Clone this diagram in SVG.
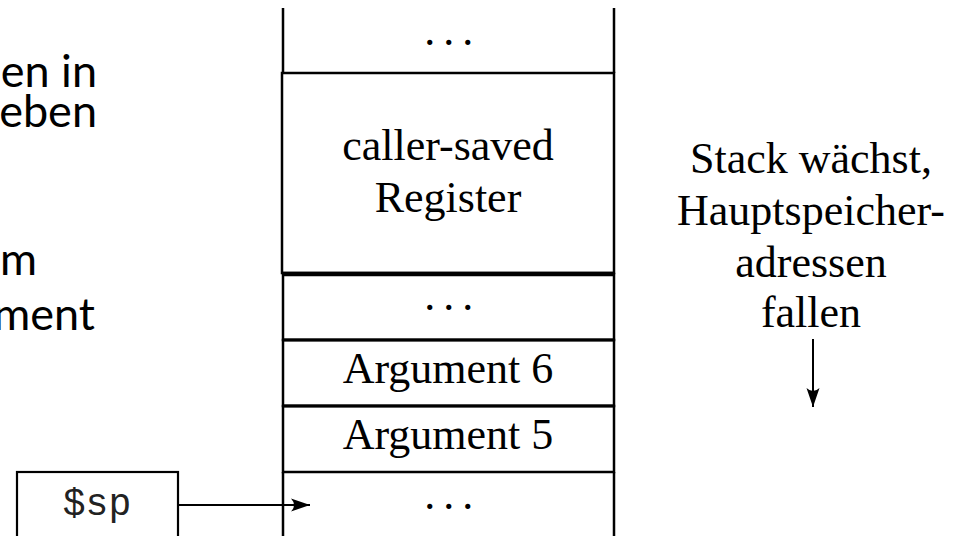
<svg xmlns="http://www.w3.org/2000/svg" width="955" height="536" viewBox="0 0 955 536">
  <style>
    .cell { fill: #fff; stroke: #000; stroke-width: 2.5; }
    .rule { stroke: #000; fill: none; }
    .lbl { font-family: "Liberation Serif", "Times New Roman", serif; font-size: 44px; fill: #000; text-anchor: middle; }
    .dots { letter-spacing: -1.5px; }
    .side { font-family: Lato, "Open Sans", sans-serif; font-size: 45px; fill: #000; text-anchor: end; }
    .mono { font-family: "Liberation Mono", "Courier New", monospace; font-size: 38px; fill: #222; text-anchor: middle; }
    .wire { stroke: #000; stroke-width: 2; fill: none; }
  </style>
  <defs>
    <marker id="head" markerUnits="userSpaceOnUse" markerWidth="20" markerHeight="14" refX="19" refY="7" orient="auto">
      <path d="M0,0.5 Q6,7 0,13.5 L19,7 Z" fill="#000"/>
    </marker>
  </defs>

  <rect width="955" height="536" fill="#fff"/>

  <!-- fragment of the slide text on the left -->
  <g id="slide-text">
    <text class="side" x="97" y="87">en in</text>
    <text class="side" x="97" y="127">eben</text>
    <text class="side" x="37" y="275">m</text>
    <text class="side" x="95" y="330">ment</text>
  </g>

  <!-- stack frame, top to bottom -->
  <g id="cell-top">
    <path class="rule" stroke-width="2.5" d="M283,8 V73 M614,8 V73"/>
    <text class="lbl dots" x="448" y="45">. . .</text>
  </g>
  <g id="cell-caller-saved">
    <rect class="cell" x="282" y="73" width="332" height="200"/>
    <text class="lbl" x="448" y="160">caller-saved</text>
    <text class="lbl" x="448" y="212">Register</text>
  </g>
  <g id="cell-more-args">
    <rect class="cell" x="283" y="274" width="331" height="66"/>
    <text class="lbl dots" x="448" y="310">. . .</text>
  </g>
  <g id="cell-arg6">
    <rect class="cell" x="283" y="340" width="331" height="66"/>
    <text class="lbl" x="448" y="383">Argument 6</text>
  </g>
  <g id="cell-arg5">
    <rect class="cell" x="283" y="406" width="331" height="66"/>
    <text class="lbl" x="448" y="449">Argument 5</text>
  </g>
  <g id="cell-bottom">
    <path class="rule" stroke-width="2.5" d="M283,472 V536 M614,472 V536"/>
    <text class="lbl dots" x="448" y="509">. . .</text>
  </g>
  <!-- heavier separators between cells -->
  <path class="rule" stroke-width="4.5" d="M282,274 H614"/>
  <path class="rule" stroke-width="3" d="M283,340 H614 M283,406 H614"/>

  <!-- stack pointer register -->
  <g id="reg-sp">
    <rect x="17" y="472" width="161" height="80" fill="#fff" stroke="#000" stroke-width="2.2"/>
    <text class="mono" x="97" y="515">$sp</text>
  </g>

  <!-- growth note -->
  <g id="note-growth">
    <text class="lbl" x="811" y="173">Stack wächst,</text>
    <text class="lbl" x="811" y="225">Hauptspeicher-</text>
    <text class="lbl" x="811" y="277">adressen</text>
    <text class="lbl" x="811" y="327">fallen</text>
  </g>

  <g id="connectors">
    <path class="wire" d="M178,505 H310" marker-end="url(#head)"/>
    <path class="wire" d="M813,339 V407" marker-end="url(#head)"/>
  </g>
</svg>
